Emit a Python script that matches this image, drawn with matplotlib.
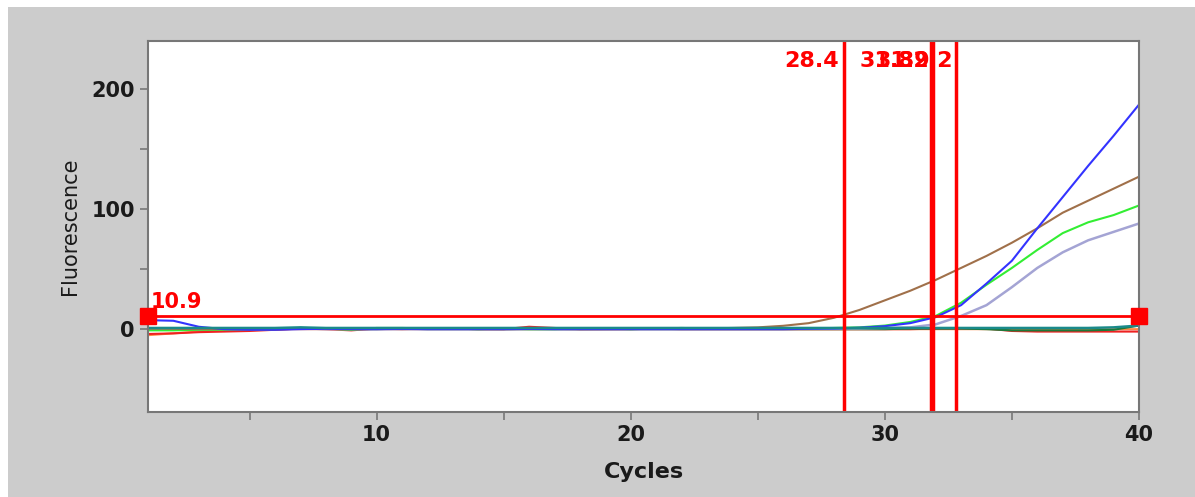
import numpy as np
import matplotlib.pyplot as plt
from matplotlib.patches import Rectangle

plt.rcParams['font.family'] = ['DejaVu Sans']

cycles = np.arange(1, 41)

# amplification curves
brown = [0.5, 0.3, 0, 0, -0.5, -0.3, 0.5, 0.3, 0, 0.2, 0.3, 0.2, 0.3, 0.1, 0, 0.3, 0.2, 0, 0.1, 0.2,
         0.3, 0.4, 0.6, 1.0, 1.5, 2.8, 5, 9.5, 16, 24, 32, 41, 51, 61, 72, 84, 97, 107, 117, 127]
blue = [7.5, 7, 2, 0, -0.5, -0.5, 0, 0.3, 0, 0, 0.2, 0, 0, 0, 0, 0.2, 0, 0, 0, 0,
        0, 0, 0, 0, 0, 0, 0.3, 0.5, 1.2, 2.5, 5, 10, 20, 38, 57, 84, 110, 136, 161, 187]
green = [-1, -1, -0.5, -0.5, 0, 0, 1, 0.5, -0.5, 1, 1, 0.5, 0.5, 0, 0.5, 0, 0, 0.5, 0.5, 0,
         0.5, 1, 0.5, 0.5, 0.5, 0.5, 0.5, 1, 1.5, 3, 6, 11, 22, 37, 51, 66, 80, 89, 95, 103]
lavender = [0, 0, 0, 0, 0, 0.5, 0.5, 0, 0, 0, 0, 0, 0, 0, 0, 0, 0, 0, 0, 0,
            0, 0, 0, 0, 0, 0, 0.3, 0.5, 0.6, 1, 1.5, 4, 11, 20, 35, 51, 64, 74, 81, 88]
teal = [1, 1, 1, 1, 1, 1, 1.5, 1, 1, 1, 1, 1, 1, 1, 1, 1, 1, 1, 1, 1,
        1, 1, 1, 1, 1, 1, 1, 1, 1, 1, 1, 1, 1, 1, 1, 1, 1, 1, 1.5, 3]
darkgreen = [0, 0, 0, 0, 0, 0.5, 1, 0.5, 0, 0, 0.5, 0, 0, 0, 0, 0, 0, 0, 0, 0,
             0, 0, 0, 0, 0, 0, 0, 0, 0, 0, 0.5, 0.5, 0.5, 0, -1, -1, -1, -1, -0.5, 3]
red = [-4, -3.5, -2.5, -2, -1.5, -0.5, 0.5, 0, -1, 0.5, 0, 0.5, 0.5, 0, 0, 2, 1, 0, 0, 0,
       0.5, 0, 0, 0, 0, 0, 0, 0, 0, 0, 0, 0.5, 0.5, 0.5, -1.5, -2, -2, -2, -2, -2]
orange = [-5, -3.5, -2, -1, -0.5, 0, 0, 0, 0, 0, 0, 0, 0, 0, 0, 0, 0, 0, 0, 0,
          0, 0, 0, 0, 0, 0, 0, 0, 0, 0, 0, 0, 0, 0, 0, 0, 0, 0, 0, 0]

threshold = 10.9
ct_values = [28.4, 31.8, 31.9, 32.8]
ct_labels = ['28.4', '31.8', '31.9', '32.2']
ct_label_x = [28.2, 31.15, 31.8, 32.68]

fig = plt.figure(figsize=(11.95, 4.97), dpi=100, facecolor='white')
fig.patches.append(Rectangle((8 / 1195, 0), 1, 1 - 7 / 497, transform=fig.transFigure,
                             facecolor='#cccccc', edgecolor='none', zorder=-10))
ax = fig.add_axes([0.1238, 0.171, 0.8293, 0.7465])
ax.set_facecolor('white')

ax.plot(cycles, orange, color='#ff8844', lw=1.5)
ax.plot(cycles, red, color='#ee2222', lw=1.5)
ax.plot(cycles, darkgreen, color='#1a7a3a', lw=1.5)
ax.plot(cycles, lavender, color='#a4a4d4', lw=1.8)
ax.plot(cycles, green, color='#33ee33', lw=1.5)
ax.plot(cycles, brown, color='#a0704a', lw=1.5)
ax.plot(cycles, blue, color='#3333ff', lw=1.5)
ax.plot(cycles, teal, color='#1a8a8a', lw=1.8)

ax.axhline(threshold, color='red', lw=2)
ax.plot([1, 40], [threshold, threshold], 's', color='red', markersize=11,
        clip_on=False, zorder=5)
ax.text(1.1, threshold + 3, str(threshold), color='red', fontsize=15, fontweight='bold',
        va='bottom', ha='left')

for ct, lab, lx in zip(ct_values, ct_labels, ct_label_x):
    ax.axvline(ct, color='red', lw=2.5)
    ax.text(lx, 223, lab, color='red', fontsize=16, fontweight='bold', ha='right', va='center')

ax.set_xlim(1, 40)
ax.set_ylim(-69, 240)
ax.set_xticks([10, 20, 30, 40])
ax.set_xticks([5, 15, 25, 35], minor=True)
ax.set_yticks([0, 100, 200])
ax.set_yticks([50, 150], minor=True)
ax.tick_params(which='both', direction='out', length=6, width=1.2, color='#777777')
ax.tick_params(labelsize=15, colors='#1a1a1a')
ax.tick_params(which='both', color='#777777')
for lab in ax.get_xticklabels() + ax.get_yticklabels():
    lab.set_fontweight('bold')

for s in ax.spines.values():
    s.set_color('#777777')
    s.set_linewidth(1.5)

ax.set_xlabel('Cycles', fontsize=16, fontweight='bold', labelpad=12, color='#1a1a1a')
ax.set_ylabel('Fluorescence', fontsize=15, labelpad=8, color='#1a1a1a')

fig.savefig('out.png', dpi=100, facecolor=fig.get_facecolor())
